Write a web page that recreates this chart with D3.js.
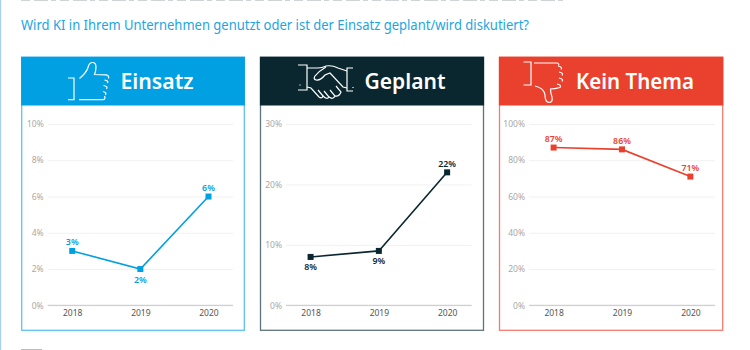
<!DOCTYPE html>
<html>
<head>
<meta charset="utf-8">
<script src="https://cdn.jsdelivr.net/npm/d3@7"></script>
<style>
  html, body { margin: 0; padding: 0; background: #fff; overflow: hidden; }
  text { font-family: "Noto Sans", "Open Sans", sans-serif; }
</style>
</head>
<body>
<div id="chart"></div>
<script>
// Data
const years = ["2018", "2019", "2020"];
const einsatzValues = [3, 2, 6];
const geplantValues = [8, 9, 22];
const keinThemaValues = [87, 86, 71];
const einsatzTicks = [0, 2, 4, 6, 8, 10];
const geplantTicks = [0, 10, 20, 30];
const keinThemaTicks = [0, 20, 40, 60, 80, 100];
const question = "Wird KI in Ihrem Unternehmen genutzt oder ist der Einsatz geplant/wird diskutiert?";

const svg = d3.select("#chart")
              .append("svg")
              .attr("width", 750)
              .attr("height", 350);

// Page edge, cut-off headline and cut-off legend swatch
svg.append("rect").attr("x", 0).attr("y", 0).attr("width", 1.2).attr("height", 350).attr("fill", "#a6d2ef");
svg.append("line").attr("x1", 21).attr("x2", 567).attr("y1", 0.3).attr("y2", 0.3)
   .attr("stroke", "#c3cbce").attr("stroke-width", 1).attr("stroke-dasharray", "9 4 14 3 5 4");
svg.append("rect").attr("x", 21).attr("y", 349).attr("width", 21).attr("height", 1).attr("fill", "#bbb");

// The reference face is narrower than Noto Sans, so fit the line to its measured width
svg.append("text")
   .attr("x", 21)
   .attr("y", 30)
   .attr("font-size", 14.3)
   .attr("fill", "#1da5e3")
   .attr("textLength", 508)
   .attr("lengthAdjust", "spacingAndGlyphs")
   .text(question);

// Icons are plain line drawings in page coordinates
const thumbUp = [
    "M68 78H74V99.7H68",
    "M79.5 78.5C85 74 87.5 70 88.5 66Q89.5 62.5 92.5 62.5Q96 62.5 96 67Q96 71 94.5 74.5L106 74.8Q109.5 75.5 108.5 78.5",
    "M104.5 80Q109 81 107.5 83", "M103.5 85.5Q108.5 86.5 106.5 89", "M103 91.5Q107 92.5 105.5 95",
    "M79 99.7H103Q106 99 104.5 96"
];
const handshake = [
    "M298 65H307V90H298", "M300 84.5V85.5",
    "M353 68H347V91H353", "M353 87V88",
    "M307 68H318Q322 68 326 66Q332 65 338 68L347 71",
    "M326 67Q319 71 315 76Q313 79 316 80Q320 81 325 75L330 73L343 87L347 88",
    "M307 87L311 88L319 97Q322 99 323 96L318 90",
    "M323 96Q327 100 329 97L324 91", "M329 97Q333 100 335 96L330 90",
    "M335 96Q339 97 341 92L336 86"
];
const thumbDown = [
    "M523.5 62H531V85H523.5",
    "M534 63H557Q559.5 63.5 558.5 65.5",
    "M558 66Q563 67 561 69.5", "M559 72Q564 73 562 75.5", "M559 78Q564 79 562 81.5", "M557 84Q562 85 560 87.5Q555 89 550 89",
    "M535 86Q544 88 545 95Q545 102 549 102.5Q553 102.5 552 97Q550.5 93 550.5 89"
];

// Panel layout
const panels = [
    { title: "Einsatz", values: einsatzValues, ticks: einsatzTicks, color: "#00a0e3", border: "#5dc3ee",
      left: 21.7, right: 244.3, gridLeft: 47.7, gridRight: 233, titleX: 120.5, titleW: 73, icon: thumbUp, below: [false, true, false] },
    { title: "Geplant", values: geplantValues, ticks: geplantTicks, color: "#0a2730", border: "#5e747c",
      left: 260.5, right: 483.5, gridLeft: 286, gridRight: 471.7, titleX: 364.5, titleW: 81, icon: handshake, below: [true, true, false] },
    { title: "Kein Thema", values: keinThemaValues, ticks: keinThemaTicks, color: "#ea412e", border: "#f37c6f",
      left: 499.5, right: 722.7, gridLeft: 529, gridRight: 715, titleX: 576, titleW: 118, icon: thumbDown, below: [false, false, false] }
];

const panelTop = 57, headerBottom = 105.5, panelBottom = 330.3;
const plotTop = 124, plotBottom = 305.3;

panels.forEach(p => {
    const g = svg.append("g");

    // Frame and coloured header
    g.append("rect")
     .attr("x", p.left)
     .attr("y", panelTop)
     .attr("width", p.right - p.left)
     .attr("height", panelBottom - panelTop)
     .attr("fill", "#fff")
     .attr("stroke", p.border)
     .attr("stroke-width", 1.3);

    g.append("rect")
     .attr("x", p.left - 0.6)
     .attr("y", panelTop)
     .attr("width", p.right - p.left + 1.2)
     .attr("height", headerBottom - panelTop)
     .attr("fill", p.color);

    g.selectAll(".icon")
     .data(p.icon)
     .enter()
     .append("path")
     .attr("class", "icon")
     .attr("d", d => d)
     .attr("fill", "none")
     .attr("stroke", "#fff")
     .attr("stroke-width", 1.2);

    g.append("text")
     .attr("x", p.titleX)
     .attr("y", 89)
     .attr("font-size", 21)
     .attr("font-weight", 600)
     .attr("fill", "#fff")
     .attr("textLength", p.titleW)
     .attr("lengthAdjust", "spacingAndGlyphs")
     .text(p.title);

    // Scales
    const x = d3.scalePoint()
                .domain(years)
                .range([p.gridLeft, p.gridRight])
                .padding(0.36);

    const y = d3.scaleLinear()
                .domain([0, d3.max(p.ticks)])
                .range([plotBottom, plotTop]);

    // Y axis doubles as the gridlines
    const yAxis = g.append("g")
                   .attr("transform", `translate(${p.gridLeft},0)`)
                   .call(d3.axisLeft(y)
                           .tickValues(p.ticks)
                           .tickSize(-(p.gridRight - p.gridLeft))
                           .tickPadding(4)
                           .tickFormat(d => d + "%"));
    yAxis.select(".domain").remove();
    yAxis.selectAll("line").attr("stroke", "#f1f1f1").attr("stroke-width", 1);
    yAxis.selectAll("text").attr("fill", "#a8a8a8").attr("font-size", 8.5);

    // X axis
    const xAxis = g.append("g")
                   .attr("transform", `translate(0,${plotBottom})`)
                   .call(d3.axisBottom(x).tickSize(0).tickPadding(5));
    xAxis.select(".domain")
         .attr("d", `M${p.gridLeft},0H${p.gridRight}`)
         .attr("stroke", "#c6c6c6");
    xAxis.selectAll("text").attr("fill", "#555").attr("font-size", 8.5);

    // Line
    const line = d3.line()
                   .x((d, i) => x(years[i]))
                   .y(d => y(d));

    g.append("path")
     .datum(p.values)
     .attr("d", line)
     .attr("fill", "none")
     .attr("stroke", p.color)
     .attr("stroke-width", 1.6);

    // Square markers
    g.selectAll(".marker")
     .data(p.values)
     .enter()
     .append("rect")
     .attr("class", "marker")
     .attr("x", (d, i) => x(years[i]) - 3)
     .attr("y", d => y(d) - 3)
     .attr("width", 6)
     .attr("height", 6)
     .attr("fill", p.color);

    // Value labels
    g.selectAll(".value")
     .data(p.values)
     .enter()
     .append("text")
     .attr("class", "value")
     .attr("x", (d, i) => x(years[i]))
     .attr("y", (d, i) => y(d) + (p.below[i] ? 13.5 : -5.5))
     .attr("text-anchor", "middle")
     .attr("font-size", 8.8)
     .attr("font-weight", 600)
     .attr("fill", p.color)
     .text(d => d + "%");
});
</script>
</body>
</html>
